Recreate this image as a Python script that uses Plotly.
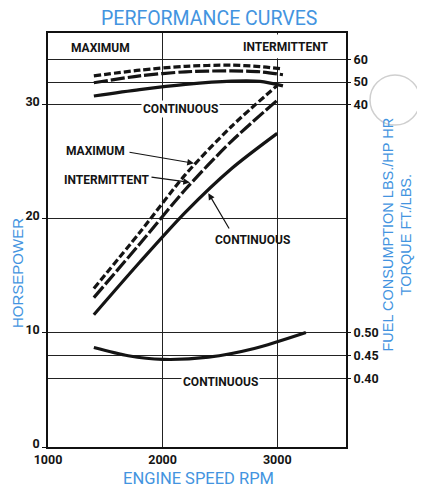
import numpy as np
import plotly.graph_objects as go

# ---------------- data ----------------
rpm_hp = [1400, 1800, 2200, 2600, 3000]
hp_max = [13.9, 18.8, 23.9, 28.1, 31.7]
hp_int = [13.1, 17.8, 22.6, 26.8, 30.4]
hp_cont = [11.6, 16.2, 20.6, 24.4, 27.5]

rpm_tq = [1400, 1800, 2200, 2600, 2850, 3050]
tq_max = [52.7, 55.2, 56.9, 57.4, 56.8, 55.7]
tq_int = [49.7, 52.7, 54.5, 54.9, 54.5, 53.2]
tq_cont = [43.9, 46.7, 49.0, 50.4, 50.3, 48.3]

rpm_fuel = [1400, 1700, 2000, 2400, 2800, 3250]
fuel_cont = [0.468, 0.450, 0.442, 0.447, 0.466, 0.501]

x_ticks = [1000, 2000, 3000]
hp_ticks = [0, 10, 20, 30]
tq_ticks = [40, 50, 60]
fuel_ticks = [0.40, 0.45, 0.50]

# ---------------- geometry / style ----------------
W, H = 425, 498
OFF = 8  # page body margin of the browser
L, R, T, B = 48, 346, 33, 447  # plot box in window pixels
HP_MAX = 36.3
TQ_RANGE = [40 - 30 * 5, 40 + (HP_MAX - 30) * 5]
FUEL_RANGE = [0.5 - 10 * 0.025, 0.5 + (HP_MAX - 10) * 0.025]

COND = "Roboto, Liberation Sans, Arial, sans-serif"
REG = "Liberation Sans, Arial, sans-serif"
BLUE = "#4394e0"
INK = "#141414"


def px(xp):
    return (xp - L) / (R - L)


def py(yp):
    return (B - yp) / (B - T)


MAXDASH = "7px,3px"
INTDASH = "14px,3px"

fig = go.Figure()


def add(x, y, dash, axis):
    fig.add_trace(go.Scatter(x=x, y=y, mode="lines", yaxis=axis,
                             line=dict(color=INK, width=3.2, dash=dash, shape="spline", smoothing=0.8),
                             hoverinfo="skip", showlegend=False))


add(rpm_hp, hp_max, MAXDASH, "y")
add(rpm_hp, hp_int, INTDASH, "y")
add(rpm_hp, hp_cont, "solid", "y")
add(rpm_tq, tq_max, MAXDASH, "y3")
add(rpm_tq, tq_int, INTDASH, "y3")
add(rpm_tq, tq_cont, "solid", "y3")
add(rpm_fuel, fuel_cont, "solid", "y4")

tickfont = dict(family=COND, size=12.5, color=INK, weight=700)
lblfont = dict(family=COND, size=12, color=INK, weight=700)

grid = dict(showgrid=True, gridcolor="#222", gridwidth=1, zeroline=False,
            tickcolor="#111", tickfont=tickfont)

fig.update_layout(
    width=W - OFF, height=H - OFF, autosize=False,
    margin=dict(l=L - OFF, r=W - R, t=T - OFF, b=H - B, pad=0),
    paper_bgcolor="white", plot_bgcolor="white",
    xaxis=dict(range=[1000, 3600], tickvals=x_ticks, showline=True, mirror=True,
               linecolor="#111", linewidth=1.5, ticks="", **grid),
    yaxis=dict(range=[0, HP_MAX], tickvals=hp_ticks, showline=True, mirror=True,
               linecolor="#111", linewidth=1.5, ticks="outside", ticklen=4, ticklabelshift=-3, **grid),
    yaxis3=dict(range=TQ_RANGE, tickvals=tq_ticks, overlaying="y", side="right", anchor="x",
                showline=False, ticks="outside", ticklen=4, **grid),
    yaxis4=dict(range=FUEL_RANGE, tickvals=fuel_ticks, tickformat=".2f", overlaying="y", side="right",
                anchor="x", showline=False, ticks="outside", ticklen=4, **grid),
)

# white patch hiding the 3000 rpm grid line inside the header strip
fig.add_shape(type="rect", xref="paper", yref="paper", x0=px(238), x1=px(334), y0=py(58.3), y1=py(34.5),
              fillcolor="white", line=dict(width=0), layer="above")
# punched hole artefact
fig.add_shape(type="circle", xref="paper", yref="paper", x0=px(370), x1=px(420), y0=py(125), y1=py(75),
              fillcolor="white", line=dict(color="#cfcfcf", width=1.5), layer="above")

ann = []


def text(t, xp, yp, font, bg=None, angle=0):
    d = dict(text=t, xref="paper", yref="paper", x=px(xp), y=py(yp), showarrow=False,
             xanchor="center", yanchor="middle", font=font, textangle=angle, borderpad=1)
    if bg:
        d["bgcolor"] = bg
    ann.append(d)


text("MAXIMUM", 100, 48, lblfont)
text("INTERMITTENT", 285.5, 47, lblfont)
text("CONTINUOUS", 180.5, 109, lblfont, bg="white")
text("MAXIMUM", 95, 151, lblfont)
text("INTERMITTENT", 106.5, 180, lblfont)
text("CONTINUOUS", 253, 240, lblfont)
text("CONTINUOUS", 220.5, 382, lblfont, bg="white")

text("PERFORMANCE CURVES", 208.5, 18, dict(family=COND, size=19.5, color=BLUE))
text("ENGINE SPEED RPM", 198.5, 479, dict(family=COND, size=16.5, color=BLUE))
text("HORSEPOWER", 17, 273, dict(family=REG, size=15, color=BLUE), angle=-90)
text("FUEL CONSUMPTION LBS./HP HR<br>TORQUE FT./LBS.", 396.5, 234,
     dict(family=REG, size=14.5, color=BLUE), angle=-90)


def to_rpm(xp):
    return 1000 + (xp - L) / (R - L) * 2600


def to_hp(yp):
    return (B - yp) / (B - T) * HP_MAX


def arrow(curve_x, curve_y, tip_rpm, tail_xp, tail_yp):
    ann.append(dict(text="", x=tip_rpm, y=float(np.interp(tip_rpm, curve_x, curve_y)), xref="x", yref="y",
                    axref="x", ayref="y", ax=to_rpm(tail_xp), ay=to_hp(tail_yp), showarrow=True,
                    arrowhead=2, arrowsize=1.1, arrowwidth=1.2, arrowcolor=INK, standoff=2))


arrow(rpm_hp, hp_max, 2290, 128, 152)
arrow(rpm_hp, hp_int, 2255, 150, 177)
arrow(rpm_hp, hp_cont, 2390, 230, 230)

fig.update_layout(annotations=ann)
fig.write_html("out.html")
